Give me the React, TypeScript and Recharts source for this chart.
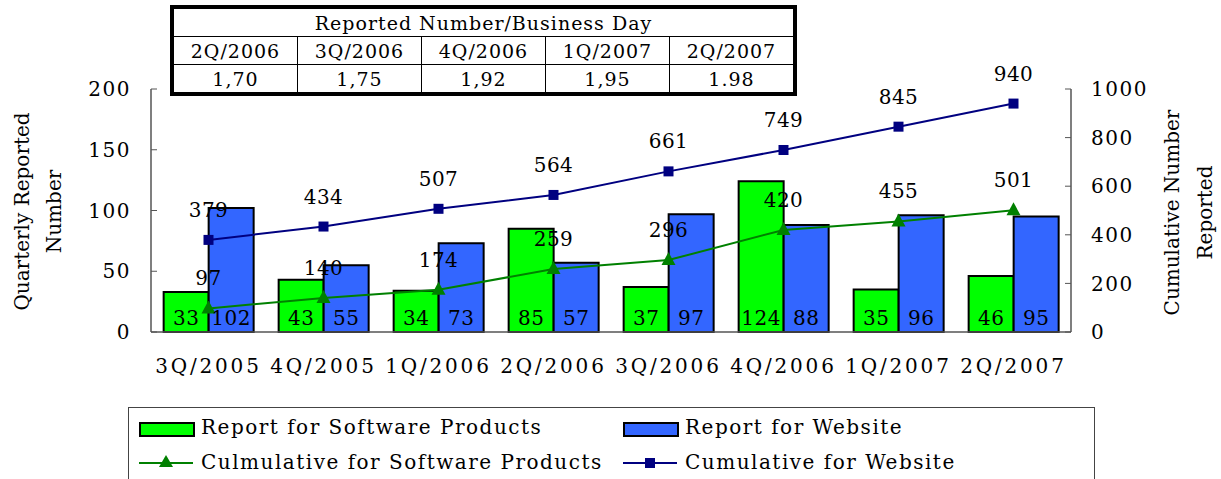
import React from 'react';
import { ComposedChart, Bar, Line, XAxis, YAxis, LabelList } from 'recharts';

const categories = ['3Q/2005', '4Q/2005', '1Q/2006', '2Q/2006', '3Q/2006', '4Q/2006', '1Q/2007', '2Q/2007'];
const softwareReports = [33, 43, 34, 85, 37, 124, 35, 46];
const websiteReports = [102, 55, 73, 57, 97, 88, 96, 95];
const softwareCumulative = [97, 140, 174, 259, 296, 420, 455, 501];
const websiteCumulative = [379, 434, 507, 564, 661, 749, 845, 940];

const tableTitle = 'Reported Number/Business Day';
const tableQuarters = ['2Q/2006', '3Q/2006', '4Q/2006', '1Q/2007', '2Q/2007'];
const tableValues = ['1,70', '1,75', '1,92', '1,95', '1.98'];

const leftTicks = [0, 50, 100, 150, 200];
const rightTicks = [0, 200, 400, 600, 800, 1000];
const edgeTicks = [1, 2, 3, 4, 5, 6, 7];

const data = categories.map((c, i) => ({
  name: c,
  sw: softwareReports[i],
  web: websiteReports[i],
  swCum: softwareCumulative[i],
  webCum: websiteCumulative[i],
}));

const FONT = '"DejaVu Serif", serif';
const GREEN = '#00FF00';
const BLUE = '#3366FF';
const DARKGREEN = '#008000';
const NAVY = '#000080';

const textStyle = { fontFamily: FONT, fontSize: 20, fill: '#000', letterSpacing: 1.5 };

const XTick = (props: any) => {
  const { x, y, payload } = props;
  return (
    <text x={x} y={y + 41} textAnchor="middle" style={{ ...textStyle, letterSpacing: 2.8 } as any}>
      {payload.value}
    </text>
  );
};

const LeftTitle = (props: any) => {
  const vb = props.viewBox || { x: 0, y: 89, height: 243 };
  const cy = vb.y + vb.height / 2 + 1;
  return (
    <g style={{ fontFamily: FONT, fontSize: 20 } as any}>
      <text x={0} y={0} transform={`translate(29, ${cy}) rotate(-90)`} textAnchor="middle" fill="#000">
        Quarterly Reported
      </text>
      <text x={0} y={0} transform={`translate(61, ${cy}) rotate(-90)`} textAnchor="middle" fill="#000">
        Number
      </text>
    </g>
  );
};

const RightTitle = (props: any) => {
  const vb = props.viewBox || { x: 1071, y: 89, height: 243 };
  const cy = vb.y + vb.height / 2 + 2;
  return (
    <g style={{ fontFamily: FONT, fontSize: 20 } as any}>
      <text x={0} y={0} transform={`translate(1179, ${cy}) rotate(-90)`} textAnchor="middle" fill="#000">
        Cumulative Number
      </text>
      <text x={0} y={0} transform={`translate(1212, ${cy}) rotate(-90)`} textAnchor="middle" fill="#000">
        Reported
      </text>
    </g>
  );
};

const Triangle = (props: any) => {
  const { cx, cy } = props;
  if (cx == null || cy == null) return null;
  return <path d={`M${cx},${cy - 8} L${cx + 7},${cy + 5} L${cx - 7},${cy + 5} Z`} fill={DARKGREEN} />;
};

const Square = (props: any) => {
  const { cx, cy } = props;
  if (cx == null || cy == null) return null;
  return <rect x={cx - 5} y={cy - 5} width={10} height={10} fill={NAVY} />;
};

const cellStyle: React.CSSProperties = {
  border: '1px solid #000',
  textAlign: 'center',
  padding: 0,
  height: 27,
  width: 125,
  fontFamily: FONT,
  fontSize: 19,
  letterSpacing: 1,
};

const legendText: React.CSSProperties = {
  position: 'absolute',
  fontFamily: FONT,
  fontSize: 20,
  letterSpacing: 1.5,
  lineHeight: '22px',
  whiteSpace: 'nowrap',
};

const labelStyle = { ...textStyle, letterSpacing: 0.5 } as any;

export default function App() {
  return (
    <div style={{ position: 'absolute', left: 0, top: 0, width: 1221, height: 479, background: '#fff', overflow: 'hidden' }}>
      <ComposedChart
        width={1221}
        height={479}
        data={data}
        margin={{ top: 89, right: 0, bottom: 107, left: 0 }}
        barCategoryGap="11%"
        barGap={0}
      >
        <XAxis
          xAxisId="edges"
          type="number"
          domain={[0, 8]}
          ticks={edgeTicks}
          height={0}
          tick={false}
          axisLine={false}
          tickSize={-7}
          tickLine={{ stroke: '#555', strokeWidth: 1 }}
          allowDataOverflow
        />
        <XAxis
          dataKey="name"
          height={40}
          tickLine={false}
          tickSize={0}
          tickMargin={0}
          axisLine={{ stroke: '#555', strokeWidth: 1.5 }}
          tick={<XTick />}
          interval={0}
        />
        <YAxis
          yAxisId="left"
          orientation="left"
          width={151}
          domain={[0, 200]}
          ticks={leftTicks}
          tickSize={-6}
          tickMargin={26}
          axisLine={{ stroke: '#555', strokeWidth: 1.5 }}
          tickLine={{ stroke: '#555', strokeWidth: 1 }}
          tick={textStyle}
          label={<LeftTitle />}
        />
        <YAxis
          yAxisId="right"
          orientation="right"
          width={150}
          domain={[0, 1000]}
          ticks={rightTicks}
          tickSize={-6}
          tickMargin={26}
          axisLine={{ stroke: '#555', strokeWidth: 1.5 }}
          tickLine={{ stroke: '#555', strokeWidth: 1 }}
          tick={textStyle}
          label={<RightTitle />}
        />
        <Bar yAxisId="left" dataKey="sw" fill={GREEN} stroke="#000" strokeWidth={2} isAnimationActive={false}>
          <LabelList dataKey="sw" position="insideBottom" offset={7} style={labelStyle} />
        </Bar>
        <Bar yAxisId="left" dataKey="web" fill={BLUE} stroke="#000" strokeWidth={2} isAnimationActive={false}>
          <LabelList dataKey="web" position="insideBottom" offset={7} style={labelStyle} />
        </Bar>
        <Line
          yAxisId="right"
          dataKey="swCum"
          type="linear"
          stroke={DARKGREEN}
          strokeWidth={2}
          dot={<Triangle />}
          activeDot={false}
          isAnimationActive={false}
        >
          <LabelList dataKey="swCum" position="top" offset={23} style={labelStyle} />
        </Line>
        <Line
          yAxisId="right"
          dataKey="webCum"
          type="linear"
          stroke={NAVY}
          strokeWidth={2}
          dot={<Square />}
          activeDot={false}
          isAnimationActive={false}
        >
          <LabelList dataKey="webCum" position="top" offset={23} style={labelStyle} />
        </Line>
      </ComposedChart>

      <table
        style={{
          position: 'absolute',
          left: 170,
          top: 5,
          width: 627,
          borderCollapse: 'collapse',
          border: '4px solid #000',
          background: '#fff',
        }}
      >
        <tbody>
          <tr>
            <td colSpan={tableQuarters.length} style={cellStyle}>{tableTitle}</td>
          </tr>
          <tr>
            {tableQuarters.map((q) => (
              <td key={q} style={cellStyle}>{q}</td>
            ))}
          </tr>
          <tr>
            {tableValues.map((v, i) => (
              <td key={i} style={cellStyle}>{v}</td>
            ))}
          </tr>
        </tbody>
      </table>

      <div
        style={{
          position: 'absolute',
          left: 128,
          top: 407,
          width: 967,
          height: 90,
          border: '1px solid #444',
          boxSizing: 'border-box',
          background: '#fff',
        }}
      >
        <div style={{ position: 'absolute', left: 10, top: 14, width: 52, height: 11, background: GREEN, border: '2px solid #000' }} />
        <div style={{ ...legendText, left: 72, top: 8 }}>Report for Software Products</div>
        <div style={{ position: 'absolute', left: 494, top: 14, width: 52, height: 11, background: BLUE, border: '2px solid #000' }} />
        <div style={{ ...legendText, left: 556, top: 8 }}>Report for Website</div>

        <svg style={{ position: 'absolute', left: 8, top: 44 }} width={60} height={20}>
          <line x1={2} y1={11} x2={56} y2={11} stroke={DARKGREEN} strokeWidth={2} />
          <path d="M29,3 L36,15 L22,15 Z" fill={DARKGREEN} />
        </svg>
        <div style={{ ...legendText, left: 72, top: 43 }}>Culmulative for Software Products</div>
        <svg style={{ position: 'absolute', left: 492, top: 44 }} width={60} height={20}>
          <line x1={2} y1={11} x2={56} y2={11} stroke={NAVY} strokeWidth={2} />
          <rect x={24} y={6} width={10} height={10} fill={NAVY} />
        </svg>
        <div style={{ ...legendText, left: 556, top: 43 }}>Cumulative for Website</div>
      </div>
    </div>
  );
}
